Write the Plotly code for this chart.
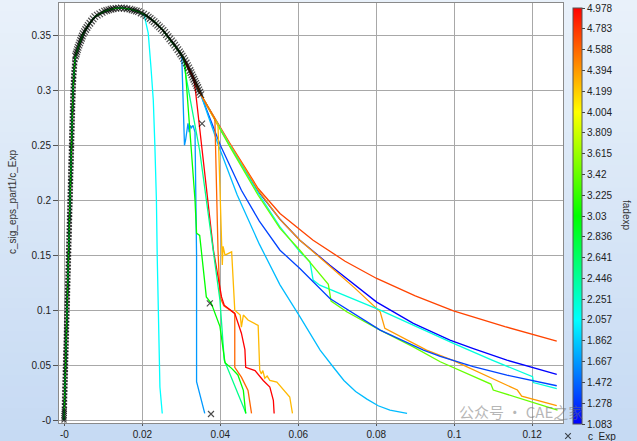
import plotly.graph_objects as go
from plotly.colors import sample_colorscale

# ------------------------------------------------------------------ data
# experimental curve c_Exp (markers), read from the picture
EXP_RISE_X = [-0.0001, -0.0001, -0.0001, -0.00005, -0.00004, -0.00002,
              0.0, 0.00002, 0.00005, 0.00007, 0.00009, 0.00012, 0.00014, 0.00016, 0.00018, 0.00021,
              0.00023, 0.00025, 0.00028, 0.0003, 0.00032, 0.00035, 0.00037, 0.00039, 0.00042, 0.00044,
              0.00046, 0.00049, 0.00051, 0.00053, 0.00055, 0.00058, 0.0006, 0.00062, 0.00065, 0.00067,
              0.00069, 0.00072, 0.00074, 0.00076, 0.00079, 0.00081, 0.00083, 0.00085, 0.00088, 0.0009,
              0.00092, 0.00095, 0.00097, 0.00099, 0.00102, 0.00104, 0.00106, 0.00109, 0.00111, 0.00113,
              0.00116, 0.00118, 0.0012, 0.00122, 0.00125, 0.00127, 0.00129, 0.00132, 0.00134, 0.00136,
              0.00139, 0.00141, 0.00143, 0.00146, 0.00148, 0.0015, 0.00152, 0.00155, 0.00157, 0.00159,
              0.00162, 0.00164, 0.00166, 0.00169, 0.00171, 0.00173, 0.00176, 0.00178, 0.0018, 0.00183,
              0.00185, 0.00187, 0.00189, 0.00192, 0.00194, 0.00196, 0.00199, 0.00201, 0.00203, 0.00206,
              0.00208, 0.0021, 0.00213, 0.00215, 0.00218, 0.00221, 0.00224, 0.00227, 0.00231, 0.00235,
              0.0024, 0.00245, 0.00251, 0.00258, 0.00265, 0.00273]
EXP_RISE_Y = [0.000, 0.002, 0.004, 0.006, 0.008, 0.010,
              0.013, 0.016, 0.019, 0.022, 0.025, 0.028, 0.031, 0.034, 0.037, 0.040,
              0.043, 0.046, 0.049, 0.052, 0.055, 0.058, 0.061, 0.064, 0.067, 0.070,
              0.073, 0.076, 0.079, 0.082, 0.085, 0.088, 0.091, 0.094, 0.097, 0.100,
              0.103, 0.106, 0.109, 0.112, 0.115, 0.118, 0.121, 0.124, 0.127, 0.130,
              0.133, 0.136, 0.139, 0.142, 0.145, 0.148, 0.151, 0.154, 0.157, 0.160,
              0.163, 0.166, 0.169, 0.172, 0.175, 0.178, 0.181, 0.184, 0.187, 0.190,
              0.193, 0.196, 0.199, 0.202, 0.205, 0.208, 0.211, 0.214, 0.217, 0.220,
              0.223, 0.226, 0.229, 0.232, 0.235, 0.238, 0.241, 0.244, 0.247, 0.250,
              0.253, 0.256, 0.259, 0.262, 0.265, 0.268, 0.271, 0.274, 0.277, 0.280,
              0.283, 0.286, 0.289, 0.292, 0.295, 0.298, 0.301, 0.304, 0.307, 0.310,
              0.313, 0.316, 0.319, 0.322, 0.325, 0.328]
EXP_BAND_X = [0.00286, 0.00302, 0.00318, 0.00334, 0.0035, 0.00372, 0.00393, 0.00415, 0.00437, 0.00458,
              0.0048, 0.00513, 0.00545, 0.00578, 0.0061, 0.00653, 0.00695, 0.00738, 0.0078, 0.00843,
              0.00905, 0.00968, 0.0103, 0.01085, 0.0114, 0.01195, 0.0125, 0.0132, 0.0139, 0.0146,
              0.01533, 0.01607, 0.0168, 0.01735, 0.0179, 0.01845, 0.019, 0.01967, 0.02033, 0.021,
              0.0215, 0.022, 0.0225, 0.023, 0.02346, 0.02392, 0.02438, 0.02484, 0.0253, 0.02573,
              0.02617, 0.0266, 0.02703, 0.02747, 0.0279, 0.0283, 0.0287, 0.0291, 0.0295, 0.02985,
              0.0302, 0.03055, 0.0309, 0.03123, 0.03155, 0.03188, 0.0322, 0.03245, 0.0327, 0.03295,
              0.0332, 0.03345, 0.0337, 0.03395, 0.0342, 0.03447, 0.03473, 0.035]
EXP_BAND_Y = [0.331, 0.333, 0.335, 0.337, 0.339, 0.3411, 0.3432, 0.3453, 0.3473, 0.3494,
              0.3515, 0.3534, 0.3553, 0.3571, 0.359, 0.361, 0.363, 0.365, 0.367, 0.3683,
              0.3695, 0.3708, 0.372, 0.3726, 0.3731, 0.3737, 0.3742, 0.3745, 0.3747, 0.375,
              0.3746, 0.3742, 0.3738, 0.3732, 0.3727, 0.3721, 0.3715, 0.3703, 0.3692, 0.368,
              0.3666, 0.3653, 0.3639, 0.3625, 0.3609, 0.3593, 0.3577, 0.3561, 0.3545, 0.3526,
              0.3507, 0.3488, 0.3468, 0.3449, 0.343, 0.341, 0.339, 0.337, 0.335, 0.333,
              0.331, 0.329, 0.327, 0.3248, 0.3225, 0.3203, 0.318, 0.316, 0.314, 0.312,
              0.31, 0.3081, 0.3063, 0.3044, 0.3025, 0.3003, 0.2982, 0.296]
EXP_END_X = [0.0353, 0.0373, 0.0376]
EXP_END_Y = [0.2697, 0.1061, 0.0055]

# simulations: common pre-peak path, then one tail per fadexp value
SIM_BASE_X = [-0.0001, 0.0022, 0.0027, 0.0035, 0.0048, 0.0061, 0.0078, 0.0103, 0.0125, 0.0146, 0.0168,
              0.0190, 0.0210, 0.0230, 0.0253, 0.0279, 0.0295, 0.0309, 0.0322, 0.0332, 0.0342, 0.0350]
SIM_BASE_Y = [0.0, 0.300, 0.329, 0.339, 0.3515, 0.359, 0.367, 0.372, 0.3742, 0.375, 0.3738,
              0.3715, 0.368, 0.3625, 0.3545, 0.343, 0.335, 0.327, 0.318, 0.310, 0.3025, 0.296]

SIM_FADEXP = [4.72, 1.083, 4.39, 2.19, 3.42, 1.34, 1.80, 4.27, 4.59, 4.978, 2.057, 1.667, 2.50, 3.03]
SIM_BASE_N = [22, 22, 22, 22, 22, 22, 22, 22, 22, 20, 12, 17, 17, 17]
SIM_TAIL_X = [
    [0.0424, 0.0497, 0.0553, 0.0638, 0.0720, 0.0801, 0.0900, 0.0998, 0.1130, 0.1263],
    [0.0424, 0.0497, 0.0553, 0.0604, 0.0681, 0.0801, 0.0895, 0.0989, 0.1049, 0.1135, 0.1263],
    [0.0424, 0.0497, 0.0553, 0.0604, 0.0681, 0.0745, 0.0810, 0.0822, 0.0929, 0.0998, 0.1162, 0.1173, 0.1263],
    [0.0424, 0.0497, 0.0553, 0.0604, 0.0630, 0.0638, 0.0655, 0.0810, 0.0998, 0.1097, 0.1201, 0.1203, 0.1263],
    [0.0424, 0.0497, 0.0553, 0.0604, 0.0677, 0.0684, 0.0724, 0.0810, 0.0895, 0.0964, 0.1094, 0.1100, 0.1265],
    [0.0400, 0.0454, 0.0500, 0.0553, 0.0604, 0.0681, 0.0810, 0.0921, 0.0964, 0.1049, 0.1135, 0.1263],
    [0.0395, 0.0443, 0.0500, 0.0553, 0.0604, 0.0656, 0.0690, 0.0717, 0.0747, 0.0776, 0.0805, 0.0835, 0.0879],
    [0.0394, 0.0399, 0.0403, 0.0405, 0.0407, 0.0412, 0.0429, 0.0437, 0.0451, 0.0454, 0.0459, 0.0471, 0.0497,
     0.0501, 0.0505, 0.0509, 0.0514, 0.0520, 0.0527, 0.0545, 0.0578, 0.0585],
    [0.0386, 0.0390, 0.0394, 0.0399, 0.0409, 0.0437, 0.0437, 0.0454, 0.0471, 0.0480],
    [0.0336, 0.0365, 0.0382, 0.0403, 0.0410, 0.0437, 0.0454, 0.0463, 0.0465, 0.0489, 0.0510, 0.0527, 0.0536, 0.0538],
    [0.0205, 0.0215, 0.0222, 0.0228, 0.0232, 0.0236, 0.0238, 0.0240, 0.0243, 0.0245, 0.0251],
    [0.0301, 0.0304, 0.0306, 0.0308, 0.0311, 0.0314, 0.0317, 0.0320, 0.0323, 0.0326, 0.0330, 0.0335, 0.0337,
     0.0339, 0.0339, 0.0360],
    [0.0306, 0.0309, 0.0347, 0.0381, 0.0399, 0.0410, 0.0448, 0.0466],
    [0.0307, 0.0310, 0.0335, 0.0339, 0.0347, 0.0364, 0.0377, 0.0399, 0.0412, 0.0429, 0.0445, 0.0459, 0.0465],
]
SIM_TAIL_Y = [
    [0.252, 0.2106, 0.1879, 0.1636, 0.1445, 0.1288, 0.1130, 0.0994, 0.0850, 0.0718],
    [0.250, 0.2082, 0.1827, 0.1636, 0.1409, 0.1073, 0.0879, 0.0727, 0.0650, 0.0545, 0.0415],
    [0.251, 0.2091, 0.1825, 0.1636, 0.1400, 0.1200, 0.0985, 0.0834, 0.0636, 0.0540, 0.0273, 0.0218, 0.0130],
    [0.250, 0.2064, 0.1757, 0.1530, 0.1439, 0.1273, 0.1227, 0.1000, 0.0697, 0.0545, 0.0394, 0.0341, 0.0285],
    [0.249, 0.2045, 0.1743, 0.1545, 0.1234, 0.1082, 0.0985, 0.0818, 0.0666, 0.0530, 0.0327, 0.0273, 0.0091],
    [0.250, 0.209, 0.181, 0.1545, 0.1379, 0.1106, 0.0818, 0.0636, 0.0580, 0.0485, 0.0409, 0.0312],
    [0.250, 0.205, 0.160, 0.123, 0.094, 0.0636, 0.048, 0.036, 0.026, 0.019, 0.013, 0.009, 0.006],
    [0.268, 0.209, 0.1545, 0.141, 0.158, 0.150, 0.153, 0.100, 0.0955, 0.0845, 0.0955, 0.091, 0.086,
     0.0455, 0.042, 0.045, 0.038, 0.040, 0.036, 0.0345, 0.021, 0.006],
    [0.274, 0.209, 0.1545, 0.112, 0.104, 0.097, 0.048, 0.039, 0.027, 0.006],
    [0.300, 0.209, 0.155, 0.112, 0.1045, 0.097, 0.079, 0.064, 0.048, 0.045, 0.036, 0.030, 0.018, 0.006],
    [0.368, 0.352, 0.321, 0.291, 0.250, 0.200, 0.150, 0.109, 0.060, 0.030, 0.006],
    [0.331, 0.300, 0.270, 0.250, 0.255, 0.265, 0.270, 0.262, 0.268, 0.266, 0.268, 0.262, 0.220,
     0.150, 0.035, 0.006],
    [0.329, 0.318, 0.245, 0.1545, 0.109, 0.0545, 0.021, 0.006],
    [0.328, 0.320, 0.200, 0.170, 0.168, 0.112, 0.106, 0.085, 0.052, 0.047, 0.041, 0.027, 0.006],
]

X_TICKS = [0.0, 0.02, 0.04, 0.06, 0.08, 0.1, 0.12]
X_TICKTEXT = ["-0", "0.02", "0.04", "0.06", "0.08", "0.1", "0.12"]
Y_TICKS = [0.0, 0.05, 0.1, 0.15, 0.2, 0.25, 0.3, 0.35]
Y_TICKTEXT = ["-0", "0.05", "0.1", "0.15", "0.2", "0.25", "0.3", "0.35"]
CB_TICKTEXT = ["1.083", "1.278", "1.472", "1.667", "1.862", "2.057", "2.251", "2.446", "2.641", "2.836",
               "3.03", "3.225", "3.42", "3.615", "3.809", "4.004", "4.199", "4.394", "4.588", "4.783", "4.978"]
FADEXP_MIN, FADEXP_MAX = 1.083, 4.978

# ------------------------------------------------------------------ style
COLORSCALE = [[0.0, "#0000ff"], [0.25, "#00ffff"], [0.5, "#00ff00"], [0.75, "#ffff00"], [1.0, "#ff0000"]]
W, H = 637, 441
ML, MR, MT, MB = 59, 74, 3, 18
PW, PH = W - ML - MR, H - MT - MB
FONT = "Liberation Sans, Arial, sans-serif"


def px_x(p):
    return (p - ML) / PW


def px_y(p):
    return (H - MB - p) / PH


fig = go.Figure()

# simulation curves
for f, n, tx, ty in zip(SIM_FADEXP, SIM_BASE_N, SIM_TAIL_X, SIM_TAIL_Y):
    col = sample_colorscale(COLORSCALE, [(f - FADEXP_MIN) / (FADEXP_MAX - FADEXP_MIN)])[0]
    fig.add_trace(go.Scatter(
        x=SIM_BASE_X[:n] + tx, y=SIM_BASE_Y[:n] + ty, mode="lines",
        line=dict(color=col, width=1.3), showlegend=False, hoverinfo="skip"))

# experiment
exp_sizes = [5] * len(EXP_RISE_X) + [6.5] * len(EXP_BAND_X) + [6] * len(EXP_END_X)
fig.add_trace(go.Scatter(
    x=EXP_RISE_X + EXP_BAND_X + EXP_END_X,
    y=EXP_RISE_Y + EXP_BAND_Y + EXP_END_Y,
    mode="markers", name="c_Exp",
    marker=dict(symbol="x-thin", size=exp_sizes, color="black", line=dict(width=1.15, color="black"))))

# colour bar
fig.add_trace(go.Scatter(
    x=[None], y=[None], mode="markers", showlegend=False, hoverinfo="skip",
    marker=dict(color=[FADEXP_MIN], cmin=FADEXP_MIN, cmax=FADEXP_MAX, colorscale=COLORSCALE, showscale=True,
                colorbar=dict(x=px_x(573), xanchor="left", xpad=0, ypad=0,
                              y=px_y(8), yanchor="top", lenmode="pixels", len=416,
                              thickness=9, outlinecolor="#555", outlinewidth=1,
                              tickvals=[float(t) for t in CB_TICKTEXT], ticktext=CB_TICKTEXT,
                              ticks="outside", ticklen=3, tickcolor="#444",
                              tickfont=dict(size=10, color="#222", family=FONT)))))

# background gradient
shapes = []
N_BANDS = 40
top_c, bot_c = (233, 241, 250), (198, 218, 243)
for i in range(N_BANDS):
    t = i / (N_BANDS - 1)
    c = tuple(round(a + (b - a) * t) for a, b in zip(top_c, bot_c))
    y0 = H * i / N_BANDS
    y1 = H * (i + 1) / N_BANDS + 1
    shapes.append(dict(type="rect", xref="paper", yref="paper", layer="below",
                       x0=px_x(0), x1=px_x(W), y0=px_y(y1), y1=px_y(y0),
                       fillcolor="rgb(%d,%d,%d)" % c, line=dict(width=0)))
shapes.append(dict(type="rect", xref="paper", yref="paper", layer="below",
                   x0=0, x1=1, y0=0, y1=1, fillcolor="white", line=dict(width=0)))

axis_common = dict(showgrid=True, gridcolor="#a8a8a8", gridwidth=1, zeroline=False,
                   showline=True, linecolor="#8a8a8a", linewidth=1, mirror=True,
                   ticks="outside", tickcolor="#555", automargin=False,
                   tickfont=dict(size=10, color="#222", family=FONT))

fig.update_layout(
    width=W, height=H,
    margin=dict(l=ML, r=MR, t=MT, b=MB, pad=0, autoexpand=False),
    paper_bgcolor="rgb(215,229,246)", plot_bgcolor="white",
    font=dict(family=FONT, size=10, color="#222"),
    shapes=shapes,
    xaxis=dict(range=[-0.00139, 0.1279], tickvals=X_TICKS, ticktext=X_TICKTEXT, ticklen=2, **axis_common),
    yaxis=dict(range=[-0.0027, 0.3794], tickvals=Y_TICKS, ticktext=Y_TICKTEXT, ticklen=5, **axis_common),
    showlegend=True,
    legend=dict(x=px_x(548), xanchor="left", y=px_y(436), yanchor="middle",
                bgcolor="rgba(0,0,0,0)", borderwidth=0, font=dict(size=10, color="#222", family=FONT)),
    annotations=[
        dict(text="c_sig_eps_part1/c_Exp", textangle=-90, xref="paper", yref="paper",
             x=px_x(12), y=px_y(202), xanchor="center", yanchor="middle", showarrow=False,
             font=dict(size=10, color="#333", family=FONT)),
        dict(text="fadexp", textangle=90, xref="paper", yref="paper",
             x=px_x(627), y=px_y(215), xanchor="center", yanchor="middle", showarrow=False,
             font=dict(size=10, color="#333", family=FONT)),
        dict(text="公众号 · CAE之家", xref="paper", yref="paper", x=px_x(521), y=px_y(411),
             xanchor="center", yanchor="middle", showarrow=False,
             font=dict(size=15, color="rgba(110,110,110,0.5)", family="Noto Sans CJK SC")),
    ],
)

fig.write_html("out.html", config={"displayModeBar": False},
               post_script="document.body.style.margin='0px';document.body.style.padding='0px';")
